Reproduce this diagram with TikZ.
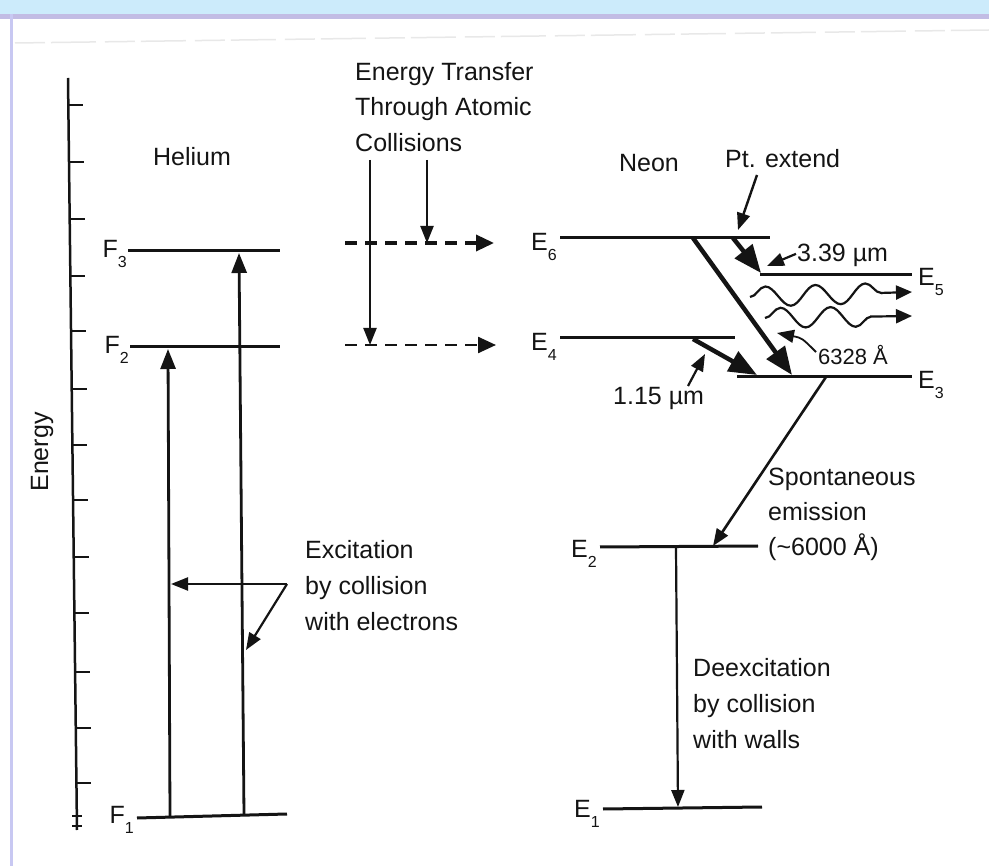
\documentclass[tikz,border=0pt]{standalone}
\usepackage{fontspec}
\setmainfont{Liberation Sans}
\usetikzlibrary{arrows.meta,decorations.pathmorphing}
\definecolor{blueband}{HTML}{CCEBFB}
\definecolor{lavline}{HTML}{C2BCE4}
\definecolor{lavside}{HTML}{C8C8F2}
\definecolor{inkc}{HTML}{141414}
\newcommand\sbs[1]{\raisebox{-0.7ex}{\fontsize{16}{16}\selectfont #1}}
\begin{document}
\begin{tikzpicture}[x=1pt,y=-1pt,
  ink/.style={draw=inkc},
  lvl/.style={ink,line width=3pt},
  lbl/.style={inner sep=0pt,font=\fontsize{25}{36}\selectfont,text=inkc},
  uparrow/.style={ink,line width=2.8pt,-{Triangle[length=20pt,width=15pt]}},
  bigarrow/.style={ink,line width=4.5pt,-{Triangle[length=28pt,width=22pt]}},
  thinarrow/.style={ink,line width=2.2pt,-{Triangle[length=17pt,width=13pt]}},
  dasharrow/.style={ink,dash pattern=on 12pt off 8pt,-{Triangle[length=18pt,width=16pt]}},
  wave/.style={ink,line width=2.2pt,decorate,decoration={snake,amplitude=10pt,segment length=50pt,post length=18pt},-{Triangle[length=16pt,width=14pt]}}
]
\useasboundingbox (0,0) rectangle (989,866);
\fill[white] (0,0) rectangle (989,866);
\fill[blueband] (0,0) rectangle (989,14);
\fill[lavline] (0,14) rectangle (989,19);
\draw[lavside,line width=3pt] (11.5,14) -- (11.5,866);
\draw[black!9,line width=1.5pt,dash pattern=on 30pt off 6pt on 45pt off 9pt] (15,43) -- (989,30);

% energy axis
\coordinate (axtop) at (68,78);
\coordinate (axbot) at (77,830);
\draw[ink,line width=2.5pt] (axtop) -- (axbot);
\foreach \y in {105,162,219,276,331,389,445,500,557,613,672,728,783}{
  \pgfmathsetmacro\xa{68+9*(\y-78)/752}
  \draw[ink,line width=2.5pt] (\xa,\y) -- ++(15,0);
}
\draw[ink,line width=1.8pt] (72,816) -- (82,816);
\draw[ink,line width=1.8pt] (72,826) -- (82,826);
\node[lbl,rotate=90] (energy) at (42,452) {Energy};

% helium
\node[lbl] (helium) at (192,157) {Helium};
\coordinate (F3l) at (128,251); \coordinate (F3r) at (280,251);
\coordinate (F2l) at (130,347); \coordinate (F2r) at (280,347);
\coordinate (F1l) at (137,818); \coordinate (F1r) at (287,814);
\draw[lvl] (F3l) -- (F3r);
\draw[lvl] (F2l) -- (F2r);
\draw[lvl] (F1l) -- (F1r);
\node[lbl,anchor=east] (F3lab) at (127,254) {F\sbs{3}};
\node[lbl,anchor=east] (F2lab) at (129,350) {F\sbs{2}};
\node[lbl,anchor=east] (F1lab) at (134,820) {F\sbs{1}};
\coordinate (upAb) at (170,817); \coordinate (upAt) at (168,349);
\coordinate (upBb) at (244,815); \coordinate (upBt) at (239,253);
\draw[uparrow] (upAb) -- (upAt);
\draw[uparrow] (upBb) -- (upBt);
\coordinate (exc) at (287,584);
\coordinate (excA) at (171,584);
\coordinate (excB) at (246,650);
\draw[thinarrow] (exc) -- (excA);
\draw[thinarrow] (exc) -- (excB);
\node[lbl,anchor=north west,align=left] (exctext) at (305,540) {Excitation\\by collision\\with electrons};

% energy transfer
\node[lbl,anchor=north west,align=left,font=\fontsize{25}{35.5}\selectfont] (transfer) at (355,62) {Energy Transfer\\Through Atomic\\Collisions};
\coordinate (dA) at (370,160); \coordinate (dAt) at (370,345);
\coordinate (dB) at (427,160); \coordinate (dBt) at (427,243);
\draw[thinarrow] (dA) -- (dAt);
\draw[thinarrow] (dB) -- (dBt);
\coordinate (t6l) at (345,243); \coordinate (t6r) at (494,243);
\coordinate (t4l) at (345,345); \coordinate (t4r) at (496,345);
\draw[dasharrow,line width=3.5pt] (t6l) -- (t6r);
\draw[dasharrow,line width=2.4pt] (t4l) -- (t4r);

% neon
\node[lbl] (neon) at (649,163) {Neon};
\node[lbl,anchor=base west] (pt) at (725,168) {Pt. extend};
\coordinate (E6l) at (560,238); \coordinate (E6r) at (770,238);
\coordinate (E5l) at (760,275); \coordinate (E5r) at (912,275);
\coordinate (E4l) at (560,338); \coordinate (E4r) at (735,338);
\coordinate (E3l) at (737,377); \coordinate (E3r) at (912,377);
\coordinate (E2l) at (600,547); \coordinate (E2r) at (758,546);
\coordinate (E1l) at (603,809); \coordinate (E1r) at (762,807);
\foreach \a/\b in {E6l/E6r,E5l/E5r,E4l/E4r,E3l/E3r,E2l/E2r,E1l/E1r}{\draw[lvl] (\a) -- (\b);}
\node[lbl,anchor=east] (E6lab) at (557,247) {E\sbs{6}};
\node[lbl,anchor=east] (E4lab) at (557,347) {E\sbs{4}};
\node[lbl,anchor=west] (E5lab) at (918,282) {E\sbs{5}};
\node[lbl,anchor=west] (E3lab) at (918,385) {E\sbs{3}};
\node[lbl,anchor=east] (E2lab) at (597,554) {E\sbs{2}};
\node[lbl,anchor=east] (E1lab) at (600,814) {E\sbs{1}};

\coordinate (ptA) at (757,175); \coordinate (ptB) at (738,230);
\draw[thinarrow,line width=2.4pt] (ptA) -- (ptB);

\coordinate (s65a) at (733,238); \coordinate (s65b) at (761,273);
\draw[bigarrow] (s65a) -- (s65b);
\coordinate (s63a) at (693,238); \coordinate (s63b) at (792,375);
\draw[bigarrow] (s63a) -- (s63b);
\coordinate (s43a) at (693,339); \coordinate (s43b) at (757,375);
\draw[bigarrow] (s43a) -- (s43b);

\node[lbl,anchor=base west] (l339) at (797,262) {3.39 µm};
\coordinate (p339) at (767,266);
\draw[thinarrow] (l339.west) ++(-1,-2) -- (p339);

\node[lbl,anchor=base west] (l115) at (613,405) {1.15 µm};
\coordinate (p115a) at (688,386); \coordinate (p115b) at (705,354);
\draw[thinarrow] (p115a) -- (p115b);

\coordinate (w1s) at (750,297); \coordinate (w1e) at (912,292);
\coordinate (w2s) at (765,318); \coordinate (w2e) at (912,316);
\draw[wave] (w1s) -- (w1e);
\draw[wave] (w2s) -- (w2e);

\node[lbl,anchor=base west,font=\fontsize{22}{26}\selectfont] (l6328) at (818,365) {6328 Å};
\coordinate (p6328) at (777,333);
\draw[thinarrow,line width=1.8pt] (816,352) .. controls (802,338) .. (p6328);

\coordinate (spA) at (826,377); \coordinate (spB) at (713,546);
\draw[thinarrow,line width=2.6pt] (spA) -- (spB);
\node[lbl,anchor=north west,align=left,font=\fontsize{25}{35}\selectfont] (spont) at (768,468) {Spontaneous\\emission\\(\textasciitilde6000 Å)};

\coordinate (deA) at (676,547); \coordinate (deB) at (678,807);
\draw[thinarrow] (deA) -- (deB);
\node[lbl,anchor=north west,align=left] (deex) at (693,658) {Deexcitation\\by collision\\with walls};
\end{tikzpicture}
\end{document}
